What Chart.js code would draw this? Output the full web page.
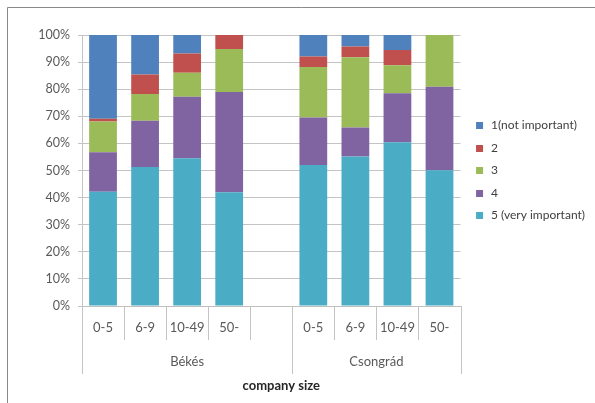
<!DOCTYPE html>
<html>
<head>
<meta charset="utf-8">
<script src="https://cdn.jsdelivr.net/npm/chart.js@4.4.1/dist/chart.umd.min.js"></script>
<style>
  html, body { margin: 0; padding: 0; background: #ffffff; }
  #wrap { width: 595px; height: 403px; position: relative; }
</style>
</head>
<body>
<div id="wrap"><canvas id="chart" width="595" height="403"></canvas></div>
<script>
// Company size categories, grouped by county (an empty slot separates the groups)
const categories = ['0-5', '6-9', '10-49', '50-', '', '0-5', '6-9', '10-49', '50-'];
const groups = ['Békés', 'Csongrád'];
const groupSizes = [5, 4];
const axisTitle = 'company size';

// Share of answers (%) for each importance rating
const seriesNames = ['1(not important)', '2', '3', '4', '5 (very important)'];
const rating1 = [30.9, 14.6, 6.8, 0, null, 7.9, 4.2, 5.5, 0];
const rating2 = [1.0, 7.2, 7.1, 5.2, null, 3.9, 4.0, 5.7, 0];
const rating3 = [11.4, 9.8, 8.9, 15.8, null, 18.6, 25.9, 10.3, 19.1];
const rating4 = [14.5, 17.1, 22.7, 37.0, null, 17.6, 10.7, 18.1, 30.8];
const rating5 = [42.2, 51.3, 54.5, 42.0, null, 52.0, 55.2, 60.4, 50.1];

const yTicks = [0, 10, 20, 30, 40, 50, 60, 70, 80, 90, 100];

const colors = ['#4f81bd', '#c0504d', '#9bbb59', '#8064a2', '#4bacc6'];
const FONT = 'Lato, "Liberation Sans", sans-serif';

// Stacked bottom-up: rating 5 first, rating 1 on top
const seriesData = [rating1, rating2, rating3, rating4, rating5];
const datasets = [4, 3, 2, 1, 0].map(i => ({
  label: seriesNames[i],
  data: seriesData[i],
  backgroundColor: colors[i],
  borderWidth: 0,
  categoryPercentage: 1.0,
  barPercentage: 0.66
}));

// Legend marker: a small square set a little in from the legend's left edge
function legendMarker(color) {
  const c = document.createElement('canvas');
  c.width = 14;
  c.height = 7;
  const g = c.getContext('2d');
  g.fillStyle = color;
  g.fillRect(5, 0, 7, 7);
  return c;
}

// Frame, category separators, county labels and the axis title
const axisDecor = {
  id: 'axisDecor',
  afterDraw(chart) {
    const ctx = chart.ctx;
    const x = chart.scales.x;
    const bottom = chart.chartArea.bottom;
    ctx.save();

    // outer frame (top and left edges)
    ctx.strokeStyle = '#8a8a8a';
    ctx.lineWidth = 1;
    ctx.beginPath();
    ctx.moveTo(7.5, 403);
    ctx.lineTo(7.5, 7.5);
    ctx.lineTo(595, 7.5);
    ctx.stroke();

    const half = (x.getPixelForValue(1) - x.getPixelForValue(0)) / 2;
    const edges = [];
    for (let i = 0; i < categories.length; i++) edges.push(x.getPixelForValue(i) - half);
    edges.push(x.getPixelForValue(categories.length - 1) + half);

    const groupEdges = [0];
    groupSizes.forEach(n => groupEdges.push(groupEdges[groupEdges.length - 1] + n));

    ctx.strokeStyle = '#c4c4c4';
    ctx.lineWidth = 1;
    edges.forEach((ex, i) => {
      const long = groupEdges.includes(i);
      const px = Math.round(ex) + 0.5;
      ctx.beginPath();
      ctx.moveTo(px, bottom);
      ctx.lineTo(px, bottom + (long ? 68 : 34));
      ctx.stroke();
    });

    ctx.fillStyle = '#595959';
    ctx.font = '13px ' + FONT;
    ctx.textAlign = 'center';
    ctx.textBaseline = 'middle';
    groups.forEach((g, gi) => {
      const cx = (edges[groupEdges[gi]] + edges[groupEdges[gi + 1]]) / 2;
      ctx.fillText(g, cx, bottom + 56);
    });

    ctx.fillStyle = '#262626';
    ctx.font = 'bold 13px ' + FONT;
    ctx.fillText(axisTitle, (x.left + x.right) / 2 + 10, bottom + 80);
    ctx.restore();
  }
};

new Chart(document.getElementById('chart'), {
  type: 'bar',
  data: { labels: categories, datasets },
  options: {
    responsive: false,
    animation: false,
    devicePixelRatio: 1,
    layout: { padding: { top: 35, right: 0, bottom: 0, left: 0 } },
    plugins: {
      tooltip: { enabled: false },
      legend: {
        position: 'right',
        fullSize: false,
        reverse: true,
        labels: {
          usePointStyle: true,
          pointStyleWidth: 14,
          boxHeight: 7,
          padding: 10.5,
          color: '#404040',
          font: { family: FONT, size: 12 },
          generateLabels(chart) {
            const items = Chart.defaults.plugins.legend.labels.generateLabels(chart);
            return items.map(it => Object.assign(it, {
              pointStyle: legendMarker(chart.data.datasets[it.datasetIndex].backgroundColor)
            }));
          }
        }
      }
    },
    scales: {
      x: {
        stacked: true,
        grid: { display: false, drawTicks: false },
        border: { display: true, color: '#bfbfbf' },
        ticks: {
          color: '#595959',
          font: { family: FONT, size: 13 },
          padding: 14,
          maxRotation: 0,
          autoSkip: false
        },
        afterFit(scale) { scale.height = 97; }
      },
      y: {
        stacked: true,
        min: 0,
        max: 100,
        afterBuildTicks(scale) { scale.ticks = yTicks.map(v => ({ value: v })); },
        grid: { color: '#c4c4c4', tickLength: 4, drawTicks: true },
        border: { display: true, color: '#c4c4c4' },
        ticks: {
          color: '#595959',
          font: { family: FONT, size: 12.5 },
          padding: 8,
          callback: v => v + '%'
        },
        afterFit(scale) { scale.width = 82; }
      }
    }
  },
  plugins: [axisDecor]
});
</script>
</body>
</html>
